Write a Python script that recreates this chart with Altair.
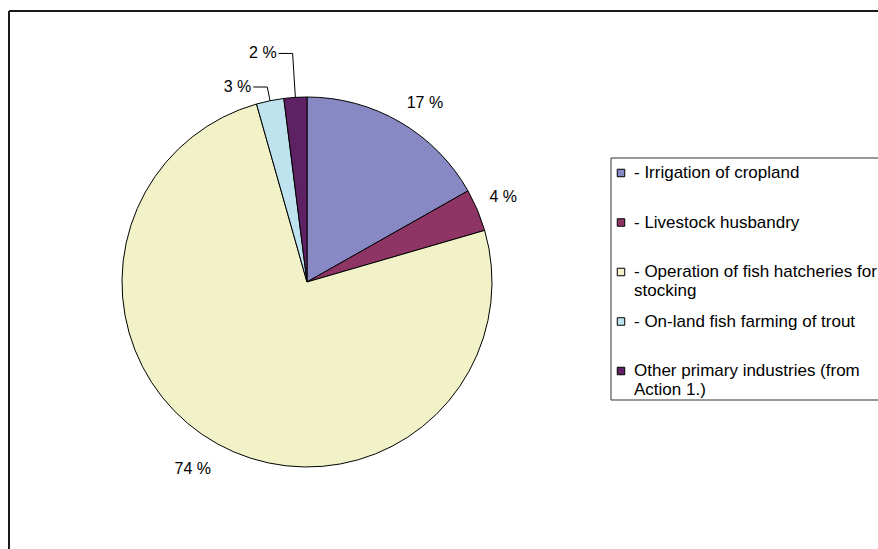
import math
import altair as alt
import pandas as pd

# ---------------- data ----------------
categories = [
    "- Irrigation of cropland",
    "- Livestock husbandry",
    "- Operation of fish hatcheries for stocking",
    "- On-land fish farming of trout",
    "Other primary industries (from Action 1.)",
]
legend_lines = [
    ["- Irrigation of cropland"],
    ["- Livestock husbandry"],
    ["- Operation of fish hatcheries for", "stocking"],
    ["- On-land fish farming of trout"],
    ["Other primary industries (from", "Action 1.)"],
]
values = [16.8, 3.7, 75.1, 2.4, 2.0]
pct_labels = ["17 %", "4 %", "74 %", "3 %", "2 %"]
colors = ["#8888C4", "#8E3566", "#F2F2C8", "#BEE3EE", "#5E2264"]

# ---------------- layout constants ----------------
W, H = 878, 549
CX, CY, R = 307, 282, 185
LABEL_GAP = 13                 # distance of label anchor outside the pie
LEADER_R = {3: 199, 4: 229}    # elbow radius of leader lines for small slices
LEADER_LEN = 14
FONT = "Liberation Sans"
FS = 16
LEG_FS = 17
LEG_X0, LEG_Y0, LEG_Y1 = 611, 158, 400
LEG_SYM_X, LEG_TXT_X = 621, 634
LEG_FIRST_Y, LEG_STEP, LEG_LINE = 173, 49.5, 19

total = sum(values)

# ---------------- derived tables ----------------
pie_df = pd.DataFrame({"category": categories, "value": values, "idx": range(len(values))})

label_rows, leader_rows, small_rows = [], [], []
cum = 0.0
for i, (v, lab) in enumerate(zip(values, pct_labels)):
    mid = (cum + v / 2) / total * 2 * math.pi
    cum += v
    s, c = math.sin(mid), math.cos(mid)
    if i in LEADER_R:
        rl = LEADER_R[i]
        p0 = (CX + R * s, CY - R * c)
        p1 = (CX + rl * s, CY - rl * c)
        p2 = (p1[0] - LEADER_LEN, p1[1])
        for k, p in enumerate([p0, p1, p2]):
            leader_rows.append({"slice": i, "k": k, "x": p[0], "y": p[1]})
        small_rows.append({"label": lab, "x": p2[0] - 2, "y": p2[1]})
    else:
        r = R + LABEL_GAP
        pos = ("R" if s >= 0 else "L") + ("T" if c >= 0 else "B")
        label_rows.append({"label": lab, "x": CX + r * s, "y": CY - r * c, "pos": pos})

label_df = pd.DataFrame(label_rows)
leader_df = pd.DataFrame(leader_rows)
small_df = pd.DataFrame(small_rows)

leg_sym, leg_txt = [], []
for i, (cat, lines) in enumerate(zip(categories, legend_lines)):
    y = LEG_FIRST_Y + i * LEG_STEP
    leg_sym.append({"category": cat, "x": LEG_SYM_X, "y": y})
    for k, line in enumerate(lines):
        leg_txt.append({"text": line, "x": LEG_TXT_X, "y": y + k * LEG_LINE})
leg_sym_df = pd.DataFrame(leg_sym)
leg_txt_df = pd.DataFrame(leg_txt)

# identity pixel scales
XS = alt.Scale(domain=[0, W], nice=False, zero=False)
YS = alt.Scale(domain=[H, 0], nice=False, zero=False)
xq = lambda: alt.X("x:Q", scale=XS, axis=None)
yq = lambda: alt.Y("y:Q", scale=YS, axis=None)
color = alt.Color("category:N", scale=alt.Scale(domain=categories, range=colors), legend=None)

one = pd.DataFrame({"a": [0]})

frame_top = alt.Chart(one).mark_rule(color="#1a1a1a", strokeWidth=2).encode(
    x=alt.value(9), x2=alt.value(W + 10), y=alt.value(11))
frame_left = alt.Chart(one).mark_rule(color="#1a1a1a", strokeWidth=2).encode(
    x=alt.value(9), y=alt.value(11), y2=alt.value(H + 10))

pie = alt.Chart(pie_df).mark_arc(outerRadius=R, stroke="black", strokeWidth=1).encode(
    theta=alt.Theta("value:Q", stack=True),
    order=alt.Order("idx:Q"),
    color=color,
    x=alt.value(CX),
    y=alt.value(CY),
)

text_layers = []
for pos in ["RT", "RB", "LT", "LB"]:
    if (label_df["pos"] == pos).any():
        text_layers.append(
            alt.Chart(label_df).transform_filter(alt.datum.pos == pos).mark_text(
                font=FONT, fontSize=FS, color="black",
                align="left" if pos[0] == "R" else "right",
                baseline="bottom" if pos[1] == "T" else "top",
                dy=0 if pos[1] == "T" else 6,
            ).encode(x=xq(), y=yq(), text="label:N")
        )

leaders = alt.Chart(leader_df).mark_line(color="black", strokeWidth=1).encode(
    x=xq(), y=yq(), detail="slice:N", order="k:Q")
small_text = alt.Chart(small_df).mark_text(
    font=FONT, fontSize=FS, color="black", align="right", baseline="middle"
).encode(x=xq(), y=yq(), text="label:N")

box_style = dict(color="#333333", strokeWidth=1)
legend_top = alt.Chart(one).mark_rule(**box_style).encode(
    x=alt.value(LEG_X0), x2=alt.value(W + 40), y=alt.value(LEG_Y0))
legend_bottom = alt.Chart(one).mark_rule(**box_style).encode(
    x=alt.value(LEG_X0), x2=alt.value(W + 40), y=alt.value(LEG_Y1))
legend_left = alt.Chart(one).mark_rule(**box_style).encode(
    x=alt.value(LEG_X0), y=alt.value(LEG_Y0), y2=alt.value(LEG_Y1))
legend_sym = alt.Chart(leg_sym_df).mark_square(
    size=56, filled=True, stroke="black", strokeWidth=1, opacity=1
).encode(x=xq(), y=yq(), color=color)
legend_text = alt.Chart(leg_txt_df).mark_text(
    font=FONT, fontSize=LEG_FS, color="black", align="left", baseline="middle"
).encode(x=xq(), y=yq(), text="text:N")

chart = alt.layer(
    frame_top, frame_left, pie, *text_layers, leaders, small_text,
    legend_top, legend_bottom, legend_left, legend_sym, legend_text,
).properties(
    width=W, height=H, padding=0, autosize=alt.AutoSizeParams(type="none"), background="white"
).configure_view(stroke=None)

chart.save("out.html", embed_options={"renderer": "svg", "actions": False})
